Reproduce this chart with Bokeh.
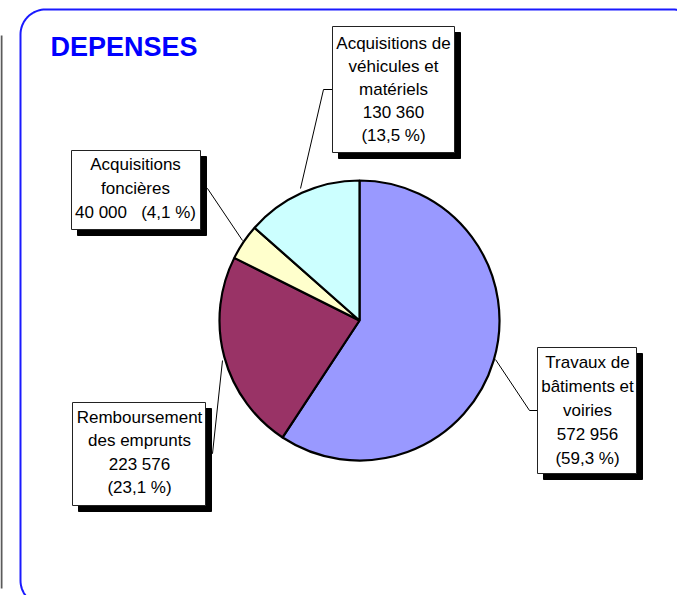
import numpy as np
from bokeh.plotting import figure
from bokeh.models import Range1d
from bokeh.core.properties import value
from bokeh.embed import file_html
from bokeh.resources import INLINE

# ---------------- data ----------------
title = "DEPENSES"
categories = [
    "Travaux de bâtiments et voiries",
    "Remboursement des emprunts",
    "Acquisitions foncières",
    "Acquisitions de véhicules et matériels",
]
values = [572956, 223576, 40000, 130360]
name_lines = [
    ["Travaux de", "bâtiments et", "voiries"],
    ["Remboursement", "des emprunts"],
    ["Acquisitions", "foncières"],
    ["Acquisitions de", "véhicules et", "matériels"],
]
colors = ["#9999FF", "#993366", "#FFFFCC", "#CCFFFF"]

# ---------------- helpers ----------------
W, H = 677, 595
def Y(s):
    return H - s

def fmt_value(v):
    return f"{v:,}".replace(",", " ")

def fmt_pct(f):
    return f"({f * 100:.1f} %)".replace(".", ",")

total = sum(values)
fractions = [v / total for v in values]

NB = "\u00a0"
label_texts = []
for i, lines in enumerate(name_lines):
    if i == 2:
        label_texts.append(lines + [fmt_value(values[i]).replace(" ", NB) + NB * 3 + fmt_pct(fractions[i])])
    else:
        label_texts.append(lines + [fmt_value(values[i]), fmt_pct(fractions[i])])

# layout (picture pixels) for each label: box, first line y, line step, center x, leader line
layout = [
    dict(box=(537, 347, 636, 473), y0=362, step=24, cx=587,
         leader=[(537, 410), (529, 410), (495, 359)]),
    dict(box=(72, 402, 205, 505), y0=417, step=23.4, cx=139,
         leader=[(205, 453), (212, 453), (222, 360)]),
    dict(box=(71, 150, 200, 229), y0=164, step=24, cx=135,
         leader=[(200, 188), (207, 188), (242, 240)]),
    dict(box=(332, 26, 454, 152), y0=43, step=23, cx=393,
         leader=[(332, 89), (323, 89), (300, 188)]),
]

FONT = "Liberation Sans"

p = figure(width=W, height=H, x_range=Range1d(0, W), y_range=Range1d(0, H),
           output_backend="svg", toolbar_location=None, min_border=0,
           background_fill_color="white", border_fill_color="white")
p.axis.visible = False
p.grid.visible = False
p.outline_line_color = None

# ---------------- left grey rule ----------------
p.line([1, 1], [Y(35), Y(588)], line_color="#5a5a5a", line_width=2)

# ---------------- rounded frame ----------------
fx0, fy0, fx1, fy1, r = 20, 9, 697, 605, 25
pts = []
def corner(cx, cy, a0, a1):
    t = np.linspace(a0, a1, 20)
    return [(cx + r * np.cos(a), cy + r * np.sin(a)) for a in t]
pts += corner(fx0 + r, fy0 + r, np.pi, 1.5 * np.pi)
pts += corner(fx1 - r, fy0 + r, 1.5 * np.pi, 2 * np.pi)
pts += corner(fx1 - r, fy1 - r, 0, 0.5 * np.pi)
pts += corner(fx0 + r, fy1 - r, 0.5 * np.pi, np.pi)
pts.append(pts[0])
p.line([q[0] for q in pts], [Y(q[1]) for q in pts], line_color="#1a1aff", line_width=2)

# ---------------- title ----------------
p.text(x=[50], y=[Y(46)], text=[title], text_font=value(FONT), text_font_style="bold",
       text_font_size="27px", text_color="#0000FF", text_baseline="middle", text_align="left")

# ---------------- pie ----------------
cum = np.concatenate([[0], np.cumsum(fractions)])
start_angles = np.pi / 2 - 2 * np.pi * cum[:-1]
end_angles = np.pi / 2 - 2 * np.pi * cum[1:]
PCX, PCY, PR = 359, 320, 140
p.wedge(x=[PCX] * len(values), y=[Y(PCY)] * len(values), radius=PR,
        start_angle=start_angles, end_angle=end_angles, direction="clock",
        fill_color=colors, line_color="black", line_width=2.2)

# ---------------- labels ----------------
for txt, lay in zip(label_texts, layout):
    lx = [q[0] for q in lay["leader"]]
    ly = [Y(q[1]) for q in lay["leader"]]
    p.line(lx, ly, line_color="black", line_width=1)
    x0, y0, x1, y1 = lay["box"]
    p.quad(left=[x0 + 6], right=[x1 + 6], top=[Y(y0 + 6)], bottom=[Y(y1 + 6)],
           fill_color="black", line_color="black")
    p.quad(left=[x0], right=[x1], top=[Y(y0)], bottom=[Y(y1)],
           fill_color="white", line_color="#222222", line_width=1)
    ys = [Y(lay["y0"] + i * lay["step"]) for i in range(len(txt))]
    p.text(x=[lay["cx"]] * len(txt), y=ys, text=txt, text_font=value(FONT),
           text_font_size="17px", text_color="black", text_align="center",
           text_baseline="middle")

open("out.html", "w").write(file_html(p, INLINE))
